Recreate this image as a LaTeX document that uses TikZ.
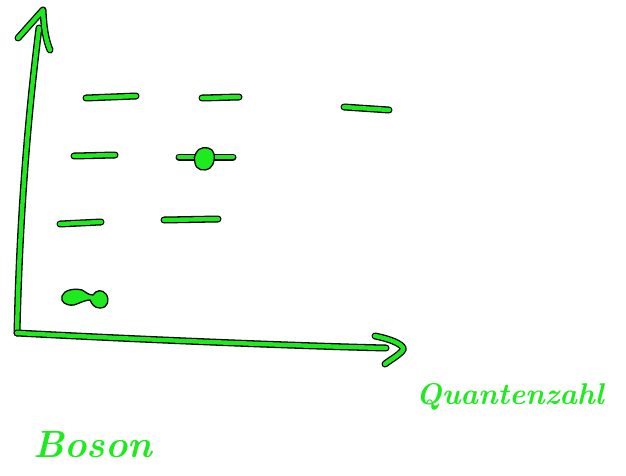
\documentclass[tikz,border=0pt]{standalone}
\definecolor{pen}{RGB}{30,235,30}
\tikzset{
  stroke/.style={draw=black, line width=1.3pt, double=pen, double distance=4.4pt, line cap=round, line join=round},
  blob/.style={fill=pen, draw=black, line width=1.3pt},
  hand/.style={text=pen, inner sep=0pt}
}
\begin{document}
\begin{tikzpicture}[x=1pt,y=-1pt]
\useasboundingbox (0,0) rectangle (626,476);
% axes
\coordinate (O) at (17,333);
\coordinate (ytop) at (39,28);
\coordinate (xend) at (386,348);
\draw[stroke] (O) .. controls (20,200) and (30,100) .. (ytop);
\draw[stroke] (18,38) -- (43,10) .. controls (44,30) and (46,40) .. (50,50);
\draw[stroke] (O) .. controls (150,340) and (300,346) .. (xend);
\draw[stroke] (375,336) .. controls (395,340) and (405,346) .. (403,350) .. controls (398,356) and (390,360) .. (385,364);
% levels row 1
\draw[stroke] (86,98) -- (136,96);
\draw[stroke] (202,98) -- (239,97);
\draw[stroke] (344,107) -- (389,110);
% row 2
\draw[stroke] (74,156) -- (115,155);
\draw[stroke] (179,157) -- (233,157);
% row 3
\draw[stroke] (60,224) -- (101,222);
\draw[stroke] (164,220) -- (218,219);
% particles
\draw[blob] (196,153) .. controls (198,147) and (208,146) .. (212,150) .. controls (216,154) and (215,164) .. (210,168) .. controls (204,172) and (196,170) .. (195,163) .. controls (194,158) and (194,156) .. (196,153) -- cycle;
\draw[blob] (62,296) .. controls (64,290) and (74,288) .. (82,290) .. controls (86,292) and (88,295) .. (93,295) .. controls (96,290) and (102,289) .. (106,294) .. controls (110,300) and (108,308) .. (100,308) .. controls (94,308) and (92,304) .. (90,300) .. controls (85,300) and (80,303) .. (74,305) .. controls (66,306) and (60,302) .. (62,296) -- cycle;
% texts
\node[hand, anchor=west, font=\fontsize{38}{44}\selectfont\itshape\bfseries] (boson) at (33,445) {Boson};
\node[hand, anchor=west, font=\fontsize{30}{36}\selectfont\itshape\bfseries] (qz) at (416,397) {Quantenzahl};
\end{tikzpicture}
\end{document}
